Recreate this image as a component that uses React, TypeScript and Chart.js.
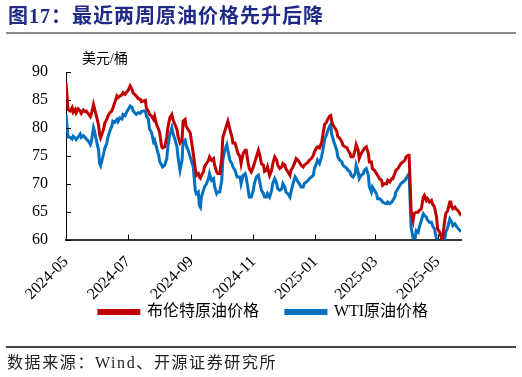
import React, { useEffect, useRef } from "react";
import { Chart, registerables } from "chart.js";

Chart.register(...registerables);

// days since 2024-05-01
const dayOffsets = [
  0, 2, 4, 6, 7, 9, 10, 12, 14, 15, 17, 19, 20, 22, 24, 25, 27, 28, 30, 32,
  33, 34, 37, 38, 40, 41, 43, 45, 46, 48, 50, 51, 53, 55, 56, 58, 60, 61, 63, 65,
  66, 68, 69, 71, 73, 74, 76, 78, 79, 81, 82, 84, 86, 87, 89, 91, 92, 94, 95, 97,
  99, 100, 102, 104, 105, 107, 109, 110, 112, 114, 115, 117, 118, 120, 122, 123, 125, 127, 128, 130,
  131, 132, 133, 135, 136, 138, 140, 141, 143, 145, 146, 148, 149, 151, 153, 154, 156, 158, 159, 161,
  163, 164, 166, 168, 169, 171, 172, 174, 176, 177, 179, 180, 182, 184, 185, 187, 189, 190, 192, 194,
  195, 197, 198, 200, 202, 203, 205, 207, 208, 210, 212, 213, 215, 216, 218, 220, 221, 223, 225, 226,
  228, 230, 231, 233, 234, 236, 238, 239, 241, 243, 244, 246, 247, 249, 251, 252, 254, 256, 257, 259,
  260, 261, 262, 264, 266, 267, 269, 271, 272, 274, 276, 277, 279, 280, 282, 284, 285, 287, 288, 290,
  292, 293, 295, 297, 298, 300, 301, 303, 305, 306, 308, 310, 311, 313, 315, 316, 318, 320, 321, 323,
  324, 326, 328, 329, 331, 333, 334, 336, 337, 338, 339, 341, 342, 344, 346, 347, 349, 351, 352, 354,
  355, 357, 359, 360, 362, 364, 365, 367, 369, 370, 372, 373, 375, 377, 378, 379, 380, 382, 383, 385,
  387, 388,
];

const brent = [
  88.1, 83.3, 83.0, 83.6, 82.8, 83.3, 82.7, 83.4, 83.0, 82.6, 83.2, 82.9, 83.0, 82.5, 82.0, 82.5, 84.2, 83.5, 82.0, 80.5,
  78.8, 78.2, 79.8, 80.8, 81.5, 82.0, 82.7, 83.0, 83.5, 84.6, 85.7, 85.4, 85.7, 85.9, 86.3, 86.0, 86.5, 86.7, 87.5, 86.8,
  86.2, 85.9, 85.7, 85.2, 85.1, 84.7, 84.8, 84.9, 83.5, 83.0, 82.4, 82.1, 81.5, 82.1, 80.6, 79.7, 79.1, 76.6, 76.4, 76.6,
  78.4, 80.0, 81.8, 82.4, 81.5, 80.6, 79.7, 78.5, 77.3, 77.9, 81.2, 81.5, 80.3, 79.7, 79.1, 77.9, 75.4, 72.7, 71.5, 71.8,
  71.2, 71.0, 71.5, 72.1, 73.0, 73.6, 74.2, 74.8, 74.2, 74.5, 73.3, 72.1, 71.8, 71.8, 74.5, 78.2, 79.4, 80.6, 81.2, 79.7,
  78.4, 77.3, 77.3, 76.0, 75.4, 74.8, 73.6, 75.4, 76.0, 76.0, 73.6, 72.7, 72.1, 73.0, 73.6, 74.8, 76.0, 75.4, 73.6, 73.3,
  72.2, 72.4, 73.0, 71.5, 72.4, 73.5, 74.8, 74.2, 73.3, 72.7, 73.0, 73.6, 73.3, 72.7, 72.1, 71.5, 72.4, 73.0, 73.9, 74.5,
  74.2, 73.6, 73.3, 73.0, 73.3, 73.6, 73.9, 74.2, 74.5, 75.1, 75.7, 76.4, 76.6, 76.4, 77.3, 78.4, 80.6, 81.0, 81.5, 82.1,
  82.2, 81.2, 80.6, 80.0, 79.4, 78.4, 78.1, 77.5, 76.9, 76.6, 76.4, 76.0, 75.4, 74.8, 74.8, 76.0, 77.0, 76.0, 74.5, 75.4,
  76.0, 76.3, 76.6, 75.4, 73.9, 73.9, 72.7, 72.4, 71.8, 71.5, 70.9, 70.6, 69.7, 70.0, 70.0, 70.6, 70.3, 70.9, 70.9, 71.8,
  72.4, 72.7, 73.3, 73.6, 73.9, 74.2, 74.8, 75.1, 75.1, 70.5, 65.2, 63.4, 64.6, 64.9, 64.9, 65.2, 65.5, 67.6, 67.9, 67.0,
  67.3, 66.7, 67.0, 66.4, 65.8, 64.0, 61.9, 61.3, 60.1, 60.4, 63.4, 64.6, 65.2, 66.7, 66.7, 65.8, 65.5, 65.8, 65.5, 65.2,
  64.6, 64.9,
];

const wti = [
  82.4, 78.4, 78.3, 78.0, 78.5, 78.2, 77.9, 78.4, 78.9, 78.3, 78.6, 78.2, 78.0, 77.6, 77.0, 77.6, 80.0, 79.4, 77.6, 76.0,
  73.6, 73.2, 75.4, 76.3, 77.2, 78.2, 79.4, 80.3, 81.2, 81.0, 81.5, 81.1, 81.8, 81.6, 82.4, 82.2, 83.0, 83.3, 83.9, 83.6,
  83.0, 82.6, 82.4, 82.7, 82.6, 82.9, 83.0, 83.0, 82.1, 81.5, 79.8, 79.2, 77.5, 77.8, 76.4, 75.1, 74.0, 73.3, 73.0, 73.3,
  74.5, 76.6, 78.8, 80.0, 79.1, 77.9, 76.6, 74.8, 72.4, 74.2, 77.5, 77.8, 76.9, 76.0, 74.8, 74.2, 73.0, 68.8, 68.2, 68.5,
  66.1, 65.8, 67.6, 68.8, 69.4, 70.0, 70.9, 71.8, 70.6, 70.9, 69.4, 68.2, 68.5, 68.5, 70.6, 74.2, 76.0, 77.0, 76.0, 74.2,
  73.6, 73.0, 72.4, 71.2, 71.2, 71.2, 70.0, 71.5, 71.8, 71.2, 68.8, 67.6, 67.6, 68.8, 70.0, 71.2, 71.5, 70.6, 68.8, 68.2,
  67.6, 67.6, 68.2, 67.6, 68.8, 70.0, 70.9, 70.0, 69.1, 68.8, 69.1, 70.0, 69.4, 68.5, 68.2, 67.6, 68.5, 70.0, 71.2, 70.9,
  70.3, 69.7, 69.4, 69.4, 70.0, 70.3, 70.6, 70.9, 71.2, 71.5, 72.7, 73.6, 74.2, 73.6, 74.8, 75.7, 77.9, 78.8, 79.4, 80.3,
  80.6, 78.8, 78.2, 77.0, 76.0, 74.8, 74.2, 73.9, 73.3, 73.0, 72.7, 72.4, 72.1, 71.5, 71.2, 71.8, 73.3, 72.1, 70.9, 71.5,
  71.8, 72.4, 72.7, 71.5, 69.4, 68.5, 69.4, 68.8, 68.2, 67.3, 67.3, 67.0, 66.7, 66.5, 66.4, 66.7, 66.4, 66.7, 67.0, 67.6,
  68.5, 69.1, 69.7, 70.0, 70.3, 70.6, 70.9, 71.5, 71.8, 67.0, 62.2, 60.2, 59.0, 61.6, 61.3, 62.2, 63.4, 64.6, 64.3, 64.0,
  63.5, 63.1, 63.1, 62.5, 61.9, 60.0, 59.0, 58.5, 58.5, 59.8, 60.0, 61.3, 62.2, 63.7, 63.4, 63.1, 62.5, 62.8, 62.5, 62.0,
  61.6, 61.8,
];

const tickDays = [0, 61, 123, 184, 245, 304, 365];
const tickLabels = ["2024-05", "2024-07", "2024-09", "2024-11", "2025-01", "2025-03", "2025-05"];
const seriesNames = ["布伦特原油价格", "WTI原油价格"];
const seriesColors = ["#C00000", "#0070C0"];

const NUM_FONT = "'Liberation Serif', 'Times New Roman', serif";
const CJK_FONT = "'Liberation Serif', 'Noto Sans CJK SC', serif";

const innerTicks = {
  id: "innerTicks",
  afterDatasetsDraw(chart: any) {
    const { ctx, chartArea, scales } = chart;
    ctx.save();
    ctx.strokeStyle = "#000";
    ctx.lineWidth = 1;
    scales.x.ticks.forEach((t: any) => {
      const px = Math.round(scales.x.getPixelForValue(t.value)) + 0.5;
      ctx.beginPath();
      ctx.moveTo(px, chartArea.bottom);
      ctx.lineTo(px, chartArea.bottom - 5);
      ctx.stroke();
    });
    scales.y.ticks.forEach((t: any) => {
      const py = Math.round(scales.y.getPixelForValue(t.value)) + 0.5;
      ctx.beginPath();
      ctx.moveTo(chartArea.left, py);
      ctx.lineTo(chartArea.left + 5, py);
      ctx.stroke();
    });
    ctx.restore();
  },
};

export default function App() {
  const canvasRef = useRef<HTMLCanvasElement | null>(null);

  useEffect(() => {
    if (!canvasRef.current) return;
    const chart = new Chart(canvasRef.current, {
      type: "line",
      data: {
        datasets: [
          {
            label: seriesNames[0],
            data: dayOffsets.map((d, i) => ({ x: d, y: brent[i] })),
            borderColor: seriesColors[0],
            backgroundColor: seriesColors[0],
            borderWidth: 3,
            pointRadius: 0,
            tension: 0,
          },
          {
            label: seriesNames[1],
            data: dayOffsets.map((d, i) => ({ x: d, y: wti[i] })),
            borderColor: seriesColors[1],
            backgroundColor: seriesColors[1],
            borderWidth: 3,
            pointRadius: 0,
            tension: 0,
          },
        ],
      },
      options: {
        animation: false,
        responsive: false,
        maintainAspectRatio: false,
        layout: { padding: { top: 72, right: 61, left: 0, bottom: 47 } },
        plugins: {
          legend: {
            position: "bottom",
            fullSize: false,
            labels: {
              boxWidth: 40,
              boxHeight: 3,
              padding: 27,
              color: "#000",
              font: { size: 16, family: CJK_FONT },
            },
          },
          tooltip: { enabled: false },
        },
        scales: {
          x: {
            type: "linear",
            min: 0,
            max: 388,
            afterBuildTicks: (scale: any) => {
              scale.ticks = tickDays.map((v) => ({ value: v }));
            },
            afterFit: (scale: any) => {
              scale.height = 37.5;
              // let the rotated labels extend below the (shortened) axis box
              scale._computeLabelArea = () => undefined;
            },
            grid: { display: false, drawTicks: false },
            border: { display: true, color: "#333", width: 2 },
            ticks: {
              autoSkip: false,
              minRotation: 45,
              maxRotation: 45,
              padding: 13,
              color: "#000",
              font: { size: 16, family: NUM_FONT },
              callback: (v: any) => {
                const i = tickDays.indexOf(Number(v));
                return i >= 0 ? tickLabels[i] : "";
              },
            },
          },
          y: {
            min: 60,
            max: 90,
            afterFit: (scale: any) => {
              scale.width = 66;
            },
            grid: { display: false, drawTicks: false },
            border: { display: true, color: "#000", width: 1 },
            ticks: {
              stepSize: 5,
              padding: 18,
              color: "#000",
              font: { size: 16, family: NUM_FONT },
            },
          },
        },
      },
      plugins: [innerTicks],
    });
    return () => chart.destroy();
  }, []);

  return (
    <div style={{ position: "fixed", left: 0, top: 0, width: 522, height: 377, background: "#fff", overflow: "hidden" }}>
      <canvas ref={canvasRef} width={522} height={377} style={{ position: "absolute", left: 0, top: 0, width: 522, height: 377 }} />
      <div
        style={{
          position: "absolute",
          left: 8,
          top: 4,
          fontFamily: "'Liberation Serif', 'Noto Sans CJK SC', serif",
          fontWeight: "bold",
          fontSize: 20,
          letterSpacing: 1,
          color: "#1F2A86",
          whiteSpace: "nowrap",
          lineHeight: "24px",
        }}
      >
        图17：最近两周原油价格先升后降
      </div>
      <div style={{ position: "absolute", left: 6, top: 32, width: 510, height: 2, background: "#8a8a8a" }} />
      <div
        style={{
          position: "absolute",
          left: 82,
          top: 50,
          fontFamily: CJK_FONT,
          fontSize: 14,
          lineHeight: "18px",
          color: "#000",
          whiteSpace: "nowrap",
        }}
      >
        美元/桶
      </div>
      <div style={{ position: "absolute", left: 6, top: 346, width: 510, height: 1.5, background: "#444" }} />
      <div
        style={{
          position: "absolute",
          left: 7,
          top: 353,
          fontFamily: CJK_FONT,
          fontSize: 16,
          lineHeight: "20px",
          letterSpacing: 1.6,
          color: "#222",
          whiteSpace: "nowrap",
        }}
      >
        数据来源：Wind、开源证券研究所
      </div>
    </div>
  );
}
